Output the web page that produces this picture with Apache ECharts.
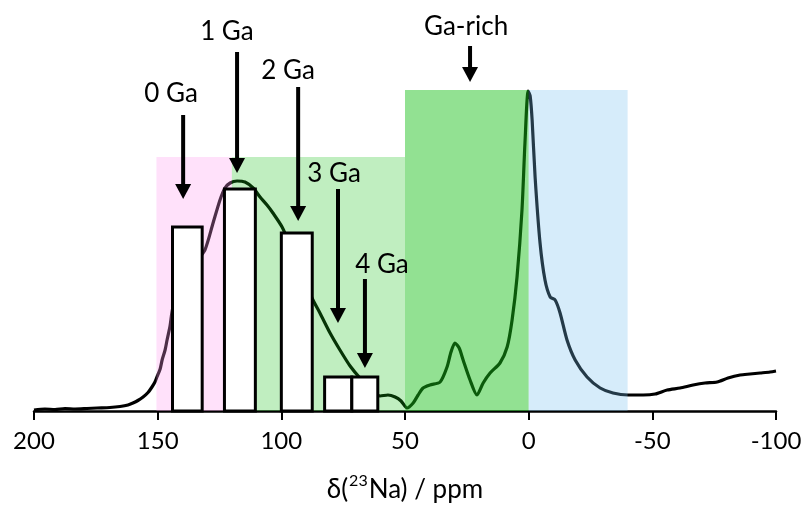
<!DOCTYPE html>
<html>
<head>
<meta charset="utf-8">
<script src="https://cdn.jsdelivr.net/npm/echarts@6/dist/echarts.min.js"></script>
<style>
html,body{margin:0;padding:0;background:#fff;}
#chart{width:805px;height:508px;}
</style>
</head>
<body>
<div id="chart"></div>
<script>
// Spectrum (chemical shift in ppm, intensity in arbitrary units)
const spectrumX = [200.0,195.6,191.5,187.5,183.4,178.6,174.5,169.3,165.2,162.0,160.0,158.0,155.9,153.9,152.3,151.1,150.3,149.0,148.2,147.0,146.2,145.0,143.8,141.0,137.7,134.5,130.9,127.6,124.8,122.8,120.7,117.9,114.7,111.4,108.6,105.8,103.4,99.7,96.5,93.2,90.0,87.2,84.4,80.3,76.3,72.2,68.2,64.1,60.1,56.9,54.0,51.6,49.2,46.7,44.7,42.7,39.9,35.8,33.0,31.4,29.8,28.1,26.5,23.7,20.9,18.4,15.6,11.6,8.7,6.7,4.7,2.7,1.5,0.2,-0.6,-1.4,-2.6,-4.6,-6.6,-8.7,-10.7,-12.7,-15.5,-18.8,-23.6,-28.9,-34.1,-40.2,-46.3,-51.1,-56.0,-61.2,-66.5,-71.3,-76.2,-80.6,-85.5,-89.5,-93.6,-97.6,-100];
const spectrumY = [1,2,1.5,2.5,2,2.5,3,3.5,4.5,6,8,10.5,14,18.5,24,29,34,42,51,61,71,85,104,119,135,149,161,188,211,223,228,230,229,223,214,206,198,184,166,146,127,111,98,78,61,45,33,23,15,16,14,10,3,8,16,23,26,29,44,59,68,63,51,31,16,28,38,48,64,91,134,201,268,320,315,291,234,168,131,114,111,98,71,51,34,23,18,16,16,17,21,23,26,28,29,33,36,37,38,39,40];

// Shaded regions
const regionStart = [150.5, 120, 50, 0];
const regionEnd = [120, 50, 0, -40];
const regionTop = [254, 254, 321, 321];

// Bars (site populations)
const barStart = [144, 123, 100, 82.5, 71.5];
const barEnd = [132, 110.5, 87.5, 71.5, 61];
const barHeight = [184, 222, 178, 34, 34];

// Arrows and labels
const arrowX = [139.7, 117.9, 93.2, 77.1, 66.2, 23.7];
const arrowTop = [296, 359, 324, 222, 132, 365];
const arrowTip = [212, 238, 190, 88, 43, 329];
const labelText = ['0 Ga', '1 Ga', '2 Ga', '3 Ga', '4 Ga', 'Ga-rich'];
const labelX = [144.6, 122, 97.3, 78.7, 59.3, 25.3];
const labelY = [317, 379, 340, 237, 146, 384];

const regionColors = ['rgba(255,155,238,0.3)', 'rgba(23,191,23,0.27)', 'rgba(23,191,23,0.47)', 'rgba(118,192,238,0.3)'];
const FONT = 'Lato, "Open Sans", sans-serif';

const chart = echarts.init(document.getElementById('chart'), null, {renderer: 'canvas'});

const option = {
  animation: false,
  backgroundColor: '#ffffff',
  grid: {left: 34, right: 29, top: 0, bottom: 97, containLabel: false, outerBoundsMode: 'none'},
  xAxis: {
    type: 'value', inverse: true, min: -100, max: 200, interval: 50,
    name: '{a|δ(}{s|23}{a|Na) / ppm}', nameLocation: 'middle', nameGap: 62,
    nameTextStyle: {
      fontFamily: FONT, fontSize: 26, color: '#000',
      rich: {
        a: {fontFamily: FONT, fontSize: 26, color: '#000'},
        s: {fontFamily: FONT, fontSize: 16, color: '#000', padding: [0, 1, 18, 1]}
      }
    },
    axisLine: {show: true, onZero: false, lineStyle: {color: '#000', width: 2.5}},
    axisTick: {show: true, length: 9, lineStyle: {color: '#000', width: 2}},
    axisLabel: {fontFamily: FONT, fontSize: 24, color: '#000', margin: 18},
    splitLine: {show: false}
  },
  yAxis: {type: 'value', min: 0, max: 411, show: false, splitLine: {show: false}},
  series: [
    {
      type: 'line', z: 2,
      data: spectrumX.map((x, i) => [x, spectrumY[i]]),
      showSymbol: false, smooth: 0.25,
      lineStyle: {color: '#000', width: 3.2}
    },
    {
      type: 'custom', z: 3,
      data: regionStart.map((s, i) => [s, regionEnd[i], regionTop[i]]),
      encode: {x: [0, 1], y: 2},
      renderItem: function (params, api) {
        const p1 = api.coord([api.value(0), api.value(2)]);
        const p2 = api.coord([api.value(1), 0]);
        return {
          type: 'rect',
          shape: {x: Math.min(p1[0], p2[0]), y: p1[1], width: Math.abs(p2[0] - p1[0]), height: p2[1] - p1[1]},
          style: {fill: regionColors[params.dataIndex]}
        };
      }
    },
    {
      type: 'custom', z: 4,
      data: barStart.map((s, i) => [s, barEnd[i], barHeight[i]]),
      encode: {x: [0, 1], y: 2},
      renderItem: function (params, api) {
        const p1 = api.coord([api.value(0), api.value(2)]);
        const p2 = api.coord([api.value(1), 0]);
        return {
          type: 'rect',
          shape: {x: Math.min(p1[0], p2[0]), y: p1[1], width: Math.abs(p2[0] - p1[0]), height: p2[1] - p1[1]},
          style: {fill: '#fff', stroke: '#000', lineWidth: 3}
        };
      }
    },
    {
      type: 'custom', z: 5,
      data: arrowX.map((x, i) => [x, arrowTop[i], arrowTip[i]]),
      encode: {x: 0, y: [1, 2]},
      renderItem: function (params, api) {
        const top = api.coord([api.value(0), api.value(1)]);
        const tip = api.coord([api.value(0), api.value(2)]);
        const hl = 15, hw = 8;
        return {
          type: 'group',
          children: [
            {type: 'line', shape: {x1: top[0], y1: top[1], x2: tip[0], y2: tip[1] - hl + 2}, style: {stroke: '#000', lineWidth: 4}},
            {type: 'polygon', shape: {points: [[tip[0] - hw, tip[1] - hl], [tip[0] + hw, tip[1] - hl], [tip[0], tip[1]]]}, style: {fill: '#000'}}
          ]
        };
      }
    },
    {
      type: 'custom', z: 6,
      data: labelX.map((x, i) => [x, labelY[i]]),
      encode: {x: 0, y: 1},
      renderItem: function (params, api) {
        const p = api.coord([api.value(0), api.value(1)]);
        return {
          type: 'text',
          x: p[0], y: p[1],
          style: {text: labelText[params.dataIndex], fontFamily: FONT, fontSize: 26, fill: '#000', align: 'center', verticalAlign: 'middle'}
        };
      }
    }
  ]
};
chart.setOption(option);
</script>
</body>
</html>
